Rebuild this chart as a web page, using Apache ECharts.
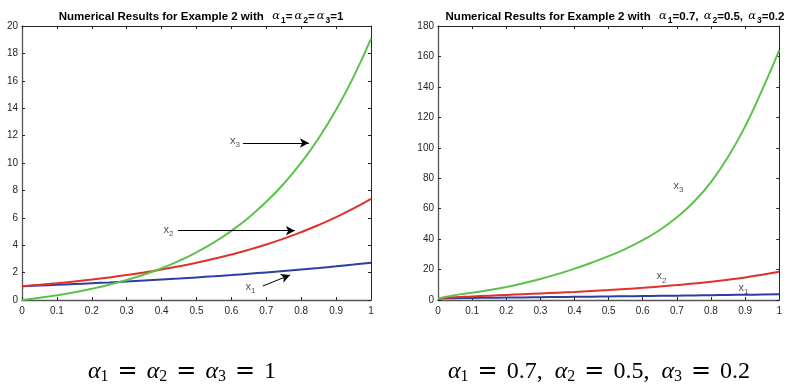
<!DOCTYPE html>
<html><head><meta charset="utf-8">
<script src="https://cdn.jsdelivr.net/npm/echarts@6/dist/echarts.min.js"></script>
<style>html,body{margin:0;padding:0;background:#fff}#c{width:785px;height:389px}</style>
</head><body><div id="c"></div>
<script>
// ---- data ----
const t = [0,0.05,0.1,0.15,0.2,0.25,0.3,0.35,0.4,0.45,0.5,0.55,0.6,0.65,0.7,0.75,0.8,0.85,0.9,0.95,1];
const xTickLabels = ['0','0.1','0.2','0.3','0.4','0.5','0.6','0.7','0.8','0.9','1'];
// Left: alpha1=alpha2=alpha3=1
const leftX1 = [1,1.051,1.105,1.162,1.221,1.284,1.350,1.419,1.492,1.568,1.649,1.733,1.822,1.916,2.014,2.117,2.226,2.340,2.460,2.586,2.718];
const leftX2 = [1,1.105,1.221,1.350,1.492,1.649,1.822,2.014,2.226,2.460,2.718,3.004,3.320,3.669,4.055,4.482,4.953,5.474,6.050,6.686,7.389];
const leftX3 = [0,0.162,0.350,0.568,0.822,1.117,1.460,1.858,2.320,2.857,3.482,4.208,5.050,6.029,7.170,8.488,10.023,11.807,13.880,16.288,19.086];
// Right: alpha1=0.7, alpha2=0.5, alpha3=0.2
const rightX1 = [1,1.2,1.35,1.48,1.6,1.72,1.84,1.96,2.08,2.2,2.32,2.45,2.58,2.72,2.86,3.0,3.15,3.3,3.45,3.6,3.75];
const rightX2 = [1,1.8,2.3,2.8,3.3,3.8,4.3,4.8,5.3,5.9,6.5,7.2,8.0,8.9,9.8,10.8,12.0,13.3,14.8,16.6,18.6];
const rightX3 = [1,3.2,4.8,6.6,8.6,11.0,13.8,17.0,20.6,24.5,28.8,33.6,39.3,46.0,54.3,64.5,77.5,94,114,138,164];
// annotations: [x, y, subscript]
const leftLabels = [[0.61,11.6,'3'],[0.42,5.1,'2'],[0.655,0.95,'1']];
const leftArrows = [[[0.633,11.46],[0.822,11.46]],[[0.447,5.06],[0.782,5.06]],[[0.69,1.02],[0.768,1.82]]];
const rightLabels = [[0.705,75,'3'],[0.655,15.5,'2'],[0.895,8.2,'1']];

const axisColor = '#262626';
const font = 'Liberation Sans, Arial, sans-serif';
function z(a){return a.map((v,i)=>[t[i],v]);}
function xAxes(gi){
  const base = {type:'value',min:0,max:1,interval:0.1,gridIndex:gi,
    axisTick:{show:true,inside:true,length:3,lineStyle:{color:axisColor}},
    splitLine:{show:false}};
  return [
    Object.assign({},base,{position:'bottom',
      axisLine:{show:true,onZero:false,lineStyle:{color:'#555',width:1.3}},
      axisLabel:{color:axisColor,fontSize:10,fontFamily:font,margin:6,
      formatter:v=>xTickLabels[Math.round(v*10)]}}),
    Object.assign({},base,{position:'top',
      axisLine:{show:true,onZero:false,lineStyle:{color:axisColor,width:1}},
      axisLabel:{show:false}})
  ];
}
function yAxes(gi,max,iv){
  const base = {type:'value',min:0,max:max,interval:iv,gridIndex:gi,
    axisTick:{show:true,inside:true,length:3,lineStyle:{color:axisColor}},
    splitLine:{show:false}};
  return [
    Object.assign({},base,{position:'left',
      axisLine:{show:true,onZero:false,lineStyle:{color:'#555',width:1.3}},
      axisLabel:{color:axisColor,fontSize:10,fontFamily:font,margin:4}}),
    Object.assign({},base,{position:'right',
      axisLine:{show:true,onZero:false,lineStyle:{color:axisColor,width:1}},
      axisLabel:{show:false}})
  ];
}
function line(data,color,xi,yi){
  return {type:'line',data:z(data),xAxisIndex:xi,yAxisIndex:yi,smooth:true,showSymbol:false,symbol:'none',
    lineStyle:{color:color,width:2},z:3};
}
const subRich = {
  x:{fontSize:11,fontFamily:font,color:'#262626'},
  s:{fontSize:8,fontFamily:font,color:'#262626',padding:[8,0,0,0]}
};
function labelSeries(lbls,xi,yi,arrows){
  const s = {type:'scatter',xAxisIndex:xi,yAxisIndex:yi,symbolSize:0,silent:true,z:5,
    data:lbls.map(l=>({value:[l[0],l[1]],sub:l[2]})),
    label:{show:true,position:'inside',formatter:p=>'{x|x}{s|'+p.data.sub+'}',rich:subRich}};
  if(arrows){
    s.markLine = {silent:true,symbol:['none','arrow'],symbolSize:[7,9],animation:false,
      lineStyle:{color:'#000',width:1,type:'solid'},label:{show:false},
      data:arrows.map(a=>[{coord:a[0]},{coord:a[1]}])};
  }
  return s;
}
const tRich = {
  b:{fontSize:11.5,fontWeight:'bold',fontFamily:font,color:'#000'},
  a:{fontSize:11.5,fontWeight:'normal',fontFamily:'DejaVu Serif, serif',fontStyle:'italic',color:'#000',padding:[0,1,0,2]},
  s:{fontSize:8.5,fontWeight:'bold',fontFamily:font,color:'#000',padding:[8,0,0,0]}
};
const cRich = {
  a:{fontSize:24,fontFamily:'Liberation Serif, serif',fontStyle:'italic',color:'#000'},
  n:{fontSize:24,fontFamily:'Liberation Serif, serif',color:'#000'},
  c:{fontSize:24,fontFamily:'Liberation Serif, serif',color:'#000',padding:[0,6,0,0]},
  e:{fontSize:24,fontFamily:'DejaVu Serif, serif',color:'#000',padding:[0,9,0,9]},
  s:{fontSize:16,fontFamily:'Liberation Serif, serif',color:'#000',padding:[9,0,0,0]}
};
const chart = echarts.init(document.getElementById('c'),null,{renderer:'canvas'});
chart.setOption({
  animation:false,
  backgroundColor:'#fff',
  title:[
    {text:'{b|Numerical Results for Example 2 with  }{a|α}{s|1}{b|=}{a|α}{s|2}{b|=}{a|α}{s|3}{b|=1}',
     left:196,top:3,textAlign:'center',textStyle:{rich:tRich}},
    {text:'{b|Numerical Results for Example 2 with  }{a|α}{s|1}{b|=0.7, }{a|α}{s|2}{b|=0.5, }{a|α}{s|3}{b|=0.2}',
     left:610,top:3,textAlign:'center',textStyle:{rich:tRich}}
  ],
  grid:[
    {left:22,top:26,width:349,height:274},
    {left:438,top:26,width:345,height:274}
  ],
  xAxis:[...xAxes(0),...xAxes(1)],
  yAxis:[...yAxes(0,20,2),...yAxes(1,180,20)],
  graphic:[
    {type:'text',left:88,top:360,style:{text:'{a|α}{s|1}{e|=}{a|α}{s|2}{e|=}{a|α}{s|3}{e|=}{n|1}',rich:cRich}},
    {type:'text',left:448,top:360,style:{text:'{a|α}{s|1}{e|=}{n|0.7,}{c| }{a|α}{s|2}{e|=}{n|0.5,}{c| }{a|α}{s|3}{e|=}{n|0.2}',rich:cRich}}
  ],
  series:[
    line(leftX1,'#2b3fa3',0,0),
    line(leftX2,'#e0312b',0,0),
    line(leftX3,'#5bc24a',0,0),
    labelSeries(leftLabels,0,0,leftArrows),
    line(rightX1,'#2b3fa3',2,2),
    line(rightX2,'#e0312b',2,2),
    line(rightX3,'#5bc24a',2,2),
    labelSeries(rightLabels,2,2,null)
  ]
});
</script></body></html>
